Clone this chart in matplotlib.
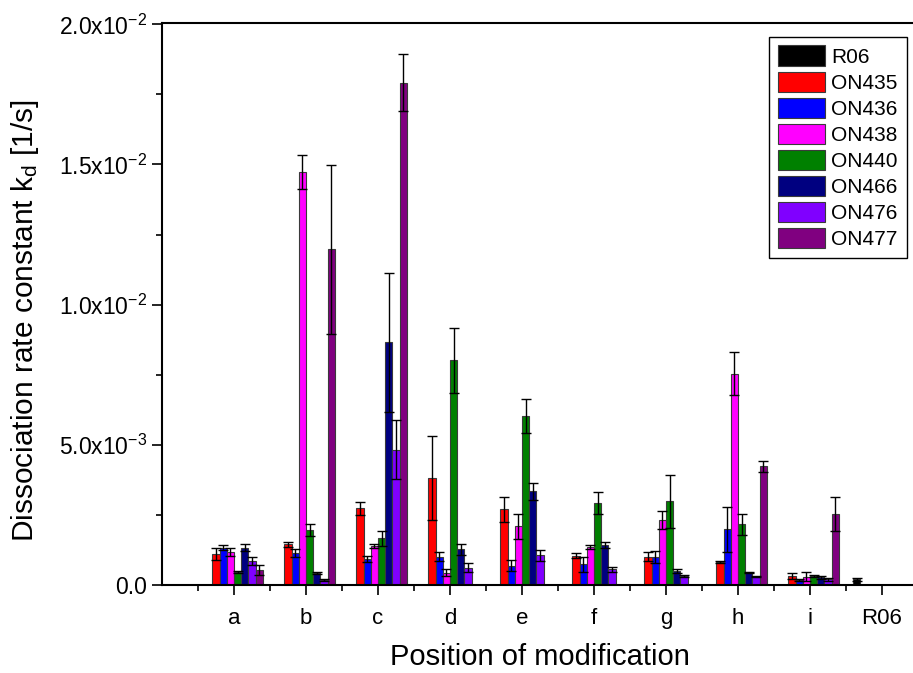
import numpy as np
import matplotlib
matplotlib.use("Agg")
import matplotlib.pyplot as plt
from matplotlib.ticker import FixedLocator, MultipleLocator, FuncFormatter

plt.rcParams['font.family'] = ['Liberation Sans', 'DejaVu Sans']
plt.rcParams['mathtext.fontset'] = 'custom'
plt.rcParams['mathtext.rm'] = 'Liberation Sans'
plt.rcParams['mathtext.it'] = 'Liberation Sans'
plt.rcParams['mathtext.default'] = 'regular'

# Categories (positions of modification) and series
categories = ['a', 'b', 'c', 'd', 'e', 'f', 'g', 'h', 'i', 'R06']
series = ['R06', 'ON435', 'ON436', 'ON438', 'ON440', 'ON466', 'ON476', 'ON477']
colors = ['#000000', '#FF0000', '#0000FF', '#FF00FF', '#008000', '#000080', '#8000FF', '#800080']

nan = np.nan
# Dissociation rate constants kd in units of 1e-3 1/s, one value per category
R06 = [nan, nan, nan, nan, nan, nan, nan, nan, nan, 0.20]
ON435 = [1.10, 1.45, 2.73, 3.81, 2.70, 1.05, 1.01, 0.83, 0.32, nan]
ON436 = [1.33, 1.14, 0.92, 1.01, 0.69, 0.74, 1.01, 1.98, 0.18, nan]
ON438 = [1.19, 14.74, 1.39, 0.44, 2.09, 1.34, 2.32, 7.53, 0.30, nan]
ON440 = [0.47, 1.96, 1.66, 8.01, 6.02, 2.93, 2.98, 2.17, 0.32, nan]
ON466 = [1.33, 0.43, 8.66, 1.27, 3.34, 1.43, 0.50, 0.45, 0.27, nan]
ON476 = [0.87, 0.18, 4.82, 0.62, 1.06, 0.56, 0.32, 0.30, 0.20, nan]
ON477 = [0.53, 11.97, 17.92, nan, nan, nan, nan, 4.23, 2.53, nan]

# Standard deviations (same units)
R06_err = [nan, nan, nan, nan, nan, nan, nan, nan, nan, 0.06]
ON435_err = [0.22, 0.10, 0.24, 1.49, 0.44, 0.08, 0.16, 0.03, 0.10, nan]
ON436_err = [0.08, 0.15, 0.11, 0.17, 0.20, 0.27, 0.21, 0.80, 0.03, nan]
ON438_err = [0.14, 0.61, 0.06, 0.13, 0.45, 0.07, 0.33, 0.77, 0.15, nan]
ON440_err = [0.04, 0.22, 0.27, 1.16, 0.60, 0.40, 0.95, 0.37, 0.04, nan]
ON466_err = [0.13, 0.03, 2.48, 0.19, 0.31, 0.10, 0.08, 0.03, 0.05, nan]
ON476_err = [0.14, 0.03, 1.05, 0.16, 0.19, 0.09, 0.03, 0.03, 0.05, nan]
ON477_err = [0.19, 3.00, 1.02, nan, nan, nan, nan, 0.20, 0.60, nan]

values = [R06, ON435, ON436, ON438, ON440, ON466, ON476, ON477]
errors = [R06_err, ON435_err, ON436_err, ON438_err, ON440_err, ON466_err, ON476_err, ON477_err]

W, H = 913, 673
fig = plt.figure(figsize=(W / 100, H / 100), dpi=100)
left, right, bottom, top = 162, 930, 585, 22.9
ax = fig.add_axes([left / W, 1 - bottom / H, (right - left) / W, (bottom - top) / H])

x = np.arange(1, len(categories) + 1)
bw = 0.1
for k, (name, vals, errs, col) in enumerate(zip(series, values, errors, colors)):
    v = np.array(vals, dtype=float) * 1e-3
    e = np.array(errs, dtype=float) * 1e-3
    pos = x - 0.4 + bw * (k + 0.5)
    ax.bar(pos, v, width=bw, color=col, edgecolor='#3a3a3a', linewidth=0.8,
           label=name, zorder=2)
    ax.errorbar(pos, v, yerr=e, fmt='none', ecolor='black', elinewidth=1.0,
                capsize=3.5, capthick=1.0, zorder=3)

ax.set_xlim(0, (right - left) / 72.0)
ax.set_ylim(0, 0.02005)

ax.xaxis.set_major_locator(FixedLocator(x))
ax.set_xticklabels(categories)
ax.xaxis.set_minor_locator(FixedLocator(np.arange(0.5, 11, 1.0)))

ax.yaxis.set_major_locator(MultipleLocator(0.005))
ax.yaxis.set_minor_locator(MultipleLocator(0.0025))

ylabels = {0: '0.0', 1: r'5.0x10$^{-3}$', 2: r'1.0x10$^{-2}$', 3: r'1.5x10$^{-2}$', 4: r'2.0x10$^{-2}$'}
ax.yaxis.set_major_formatter(FuncFormatter(lambda v, p: ylabels.get(int(round(v / 0.005)), '')))

for s in ax.spines.values():
    s.set_linewidth(1.5)
ax.tick_params(axis='both', which='major', direction='out', length=7.5, width=1.2)
ax.tick_params(axis='both', which='minor', direction='out', length=4, width=1.2)
ax.tick_params(axis='x', which='major', pad=9, labelsize=16)
ax.tick_params(axis='y', which='major', pad=3, labelsize=16.5)
ax.tick_params(top=False, right=False, which='both')

ax.set_xlabel('Position of modification', fontsize=21)
ax.xaxis.set_label_coords(0.4915, -0.103)
ax.set_ylabel(r'Dissociation rate constant k$_d$ [1/s]', fontsize=21.5)
ax.yaxis.set_label_coords(-0.158, 0.47)

leg = ax.legend(loc='upper right', bbox_to_anchor=(906.7 / W, 1 - 36.7 / H),
                bbox_transform=fig.transFigure, borderaxespad=0, fontsize=15,
                frameon=True, fancybox=False, edgecolor='black', framealpha=1,
                handlelength=2.26, handleheight=1.12, labelspacing=0.235,
                handletextpad=0.32, borderpad=0.42)
leg.get_frame().set_linewidth(1.0)

fig.savefig('out.png', dpi=100)
